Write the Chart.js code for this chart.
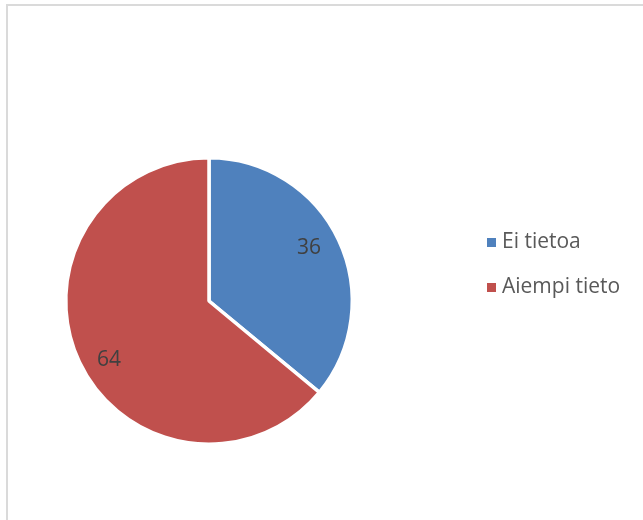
<!DOCTYPE html>
<html>
<head>
<meta charset="utf-8">
<script src="https://cdn.jsdelivr.net/npm/chart.js@4"></script>
<style>
  html, body { margin: 0; padding: 0; background: #fff; overflow: hidden; }
  #frame { position: absolute; left: 6px; top: 4px; width: 700px; height: 600px; border: 2px solid #dadada; box-sizing: border-box; }
  #pie { position: absolute; left: 0; top: 0; }
</style>
</head>
<body>
<div id="frame"></div>
<canvas id="pie" width="643" height="520"></canvas>
<script>
// Jakauma: ei tietoa / aiempi tieto (%)
var labels = ['Ei tietoa', 'Aiempi tieto'];
var values = [36, 64];
var colors = ['#4f81bd', '#c0504d'];

var FONT = '"Open Sans", "Liberation Sans", sans-serif';

// Arvot sektorien sisälle
var sliceLabels = {
    id: 'sliceLabels',
    afterDatasetsDraw: function (chart) {
        var ctx = chart.ctx;
        var meta = chart.getDatasetMeta(0);
        ctx.save();
        ctx.font = '21px ' + FONT;
        ctx.fillStyle = '#404040';
        ctx.textAlign = 'center';
        ctx.textBaseline = 'middle';
        meta.data.forEach(function (arc, i) {
            var mid = (arc.startAngle + arc.endAngle) / 2 - 0.07;
            var r = arc.outerRadius * 0.8;
            ctx.fillText(String(values[i]), arc.x + Math.cos(mid) * r, arc.y + Math.sin(mid) * r + 3);
        });
        ctx.restore();
    }
};

// Selite oikealle puolelle
var sideLegend = {
    id: 'sideLegend',
    afterDraw: function (chart) {
        var ctx = chart.ctx;
        ctx.save();
        ctx.font = '21px ' + FONT;
        ctx.textBaseline = 'middle';
        labels.forEach(function (name, i) {
            var y = 242 + i * 45;
            ctx.fillStyle = colors[i];
            ctx.fillRect(487, y - 4, 9, 9);
            ctx.fillStyle = '#595959';
            ctx.fillText(name, 502, y);
        });
        ctx.restore();
    }
};

var ctx = document.getElementById('pie').getContext('2d');
var chart = new Chart(ctx, {
    type: 'pie',
    data: {
        labels: labels,
        datasets: [{
            data: values,
            backgroundColor: colors,
            borderColor: '#ffffff',
            borderWidth: 3.5
        }]
    },
    options: {
        responsive: false,
        animation: false,
        layout: { padding: { left: 64, right: 289, top: 156, bottom: 74 } },
        plugins: {
            legend: { display: false },
            tooltip: { enabled: false }
        }
    },
    plugins: [sliceLabels, sideLegend]
});
</script>
</body>
</html>
